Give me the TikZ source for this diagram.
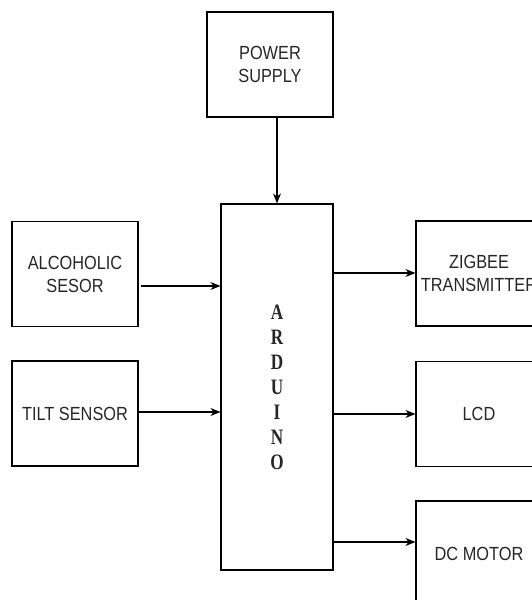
\documentclass[tikz,border=0pt]{standalone}
\usepackage{fontspec}
\setmainfont{Liberation Sans}[FakeStretch=0.86]
\newfontfamily\ardfont{Liberation Serif}[FakeStretch=0.78]
\usetikzlibrary{arrows.meta}

\tikzset{
    block/.style={draw, line width=1.2pt, minimum width=126pt, minimum height=105pt,
        align=center, text=black!85, font=\fontsize{19}{23}\selectfont},
    link/.style={line width=1.2pt, -{Stealth[length=10pt,width=8pt]}}
}

\begin{document}
\begin{tikzpicture}[x=1pt,y=-1pt]
    \path[use as bounding box, clip] (0,0) rectangle (532,600);

    % Blocks
    \node[block] (power) at (270,64.5) {POWER\\SUPPLY};
    \node[block, minimum width=112pt, minimum height=366pt,
        font=\ardfont\bfseries\fontsize{22}{25}\selectfont] (ard) at (277,387)
        {A\\R\\D\\U\\I\\N\\O};
    \node[block] (alc) at (75,274) {ALCOHOLIC\\SESOR};
    \node[block] (tilt) at (75,413.5) {TILT SENSOR};
    \node[block] (zig) at (479,273.5) {ZIGBEE\\TRANSMITTER};
    \node[block] (lcd) at (479,414) {LCD};
    \node[block] (motor) at (479,553.5) {DC MOTOR};

    % Connections
    \draw[link] (ard.north |- power.south) -- (ard.north);
    \draw[link] ([shift={(2,12)}]alc.east) -- (ard.west |- 0,286);
    \draw[link] (tilt.east |- 0,412) -- (ard.west |- 0,412);
    \draw[link] (ard.east |- 0,273) -- (zig.west |- 0,273);
    \draw[link] (ard.east |- lcd) -- (lcd.west);
    \draw[link] (ard.east |- 0,542) -- (motor.west |- 0,542);
\end{tikzpicture}
\end{document}
